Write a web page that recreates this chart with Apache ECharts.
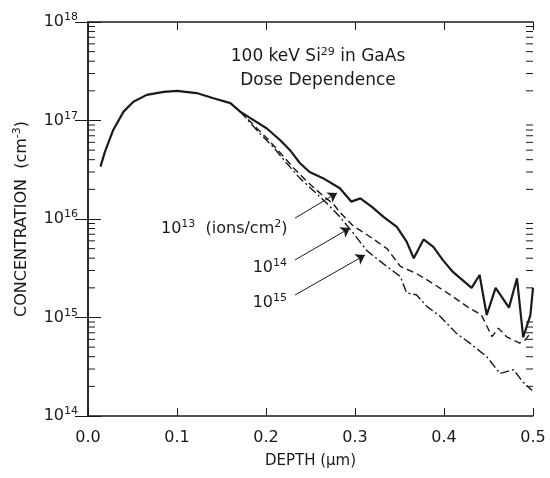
<!DOCTYPE html>
<html>
<head>
<meta charset="utf-8">
<script src="https://cdn.jsdelivr.net/npm/echarts@6/dist/echarts.min.js"></script>
<style>
html,body{margin:0;padding:0;background:#fff;}
#chart{width:550px;height:478px;}
</style>
</head>
<body>
<div id="chart"></div>
<script>
// ---- data (depth in µm, concentration in cm^-3) ----
const depth13 = [0.014,0.019,0.028,0.040,0.051,0.066,0.085,0.100,0.122,0.141,0.160,0.171,0.186,0.201,0.216,0.227,0.238,0.249,0.264,0.283,0.296,0.306,0.319,0.332,0.347,0.358,0.366,0.377,0.388,0.399,0.410,0.431,0.440,0.448,0.458,0.473,0.482,0.489,0.497,0.500];
const conc13  = [3.4e16,4.8e16,7.9e16,1.23e17,1.55e17,1.82e17,1.95e17,2.0e17,1.9e17,1.68e17,1.5e17,1.23e17,1.01e17,8.3e16,6.3e16,5.0e16,3.7e16,3.0e16,2.6e16,2.05e16,1.5e16,1.62e16,1.33e16,1.05e16,8.3e15,5.9e15,4.0e15,6.2e15,5.2e15,3.8e15,2.9e15,2.0e15,2.7e15,1.06e15,2.0e15,1.26e15,2.5e15,6.3e14,1.05e15,2.0e15];

const depth14 = [0.171,0.182,0.201,0.216,0.231,0.246,0.261,0.276,0.283,0.298,0.317,0.336,0.351,0.369,0.388,0.407,0.426,0.442,0.454,0.461,0.470,0.485,0.491,0.497];
const conc14  = [1.23e17,9.8e16,6.6e16,4.7e16,3.3e16,2.4e16,1.82e16,1.41e16,1.17e16,8.5e15,6.6e15,5.0e15,3.3e15,2.8e15,2.2e15,1.7e15,1.29e15,1.06e15,6.4e14,7.8e14,6.4e14,5.5e14,5.9e14,6.9e14];

const depth15 = [0.171,0.193,0.208,0.223,0.238,0.253,0.268,0.283,0.298,0.313,0.332,0.351,0.358,0.369,0.381,0.396,0.414,0.429,0.448,0.463,0.478,0.489,0.499];
const conc15  = [1.23e17,7.4e16,5.4e16,3.7e16,2.6e16,1.95e16,1.45e16,1.05e16,7.2e15,4.8e15,3.5e15,2.6e15,1.78e15,1.7e15,1.29e15,1.02e15,6.9e14,5.5e14,4.0e14,2.7e14,2.95e14,2.2e14,1.82e14];

const xTicks = [0.0,0.1,0.2,0.3,0.4,0.5];
const decades = [1e14,1e15,1e16,1e17];
const minorMult = [2,3,4,5,6,7,8,9];

// annotation anchors in data units [depth, conc]
const doseLabels = ['13','14','15'];
const labelPos = [[0.082,7.9e15],[0.185,3.2e15],[0.185,1.4e15]];
const arrowFrom = [[0.2326,1.02e16],[0.2326,3.84e15],[0.2326,1.69e15]];
const arrowTo   = [[0.2798,1.84e16],[0.2944,8.1e15],[0.3112,4.3e15]];

// ---- chart ----
const FONT = 'DejaVu Sans';
const INK = '#1a1a1a';
const zip = (a,b) => a.map((v,i)=>[v,b[i]]);
const minorVals = [];
decades.forEach(d => minorMult.forEach(m => minorVals.push([0, d*m])));

const chart = echarts.init(document.getElementById('chart'), null, {renderer:'canvas'});
const supRich = {
  b:{fontSize:16,fontFamily:FONT,color:INK,fontWeight:'normal'},
  s:{fontSize:11,fontFamily:FONT,color:INK,fontWeight:'normal',padding:[0,0,9,0]}
};

const option = {
  animation:false,
  backgroundColor:'#fff',
  title:{
    text:'{t|100 keV Si}{s|29}{t| in GaAs}\n{t|Dose Dependence}',
    left:313, top:40, textAlign:'center',
    textStyle:{
      fontWeight:'normal',
      lineHeight:24,
      rich:{
        t:{fontSize:17,fontFamily:FONT,color:INK,fontWeight:'normal',lineHeight:24},
        s:{fontSize:11,fontFamily:FONT,color:INK,fontWeight:'normal',padding:[0,0,9,0]}
      }
    }
  },
  grid:{left:88,right:17,top:22,bottom:62},
  xAxis:[{
    type:'value', min:0, max:0.5, interval:0.1, position:'bottom',
    name:'DEPTH (µm)', nameLocation:'middle', nameGap:38,
    nameTextStyle:{fontSize:15,fontFamily:FONT,color:INK},
    axisLine:{show:true,lineStyle:{color:INK,width:1.5}},
    axisTick:{show:true,inside:true,length:8,lineStyle:{color:INK,width:1}},
    axisLabel:{fontSize:16,fontFamily:FONT,color:INK,margin:14,formatter:v=>v.toFixed(1)},
    splitLine:{show:false}
  },{
    type:'value', min:0, max:0.5, interval:0.1, position:'top',
    axisLine:{show:true,lineStyle:{color:INK,width:1.5}},
    axisTick:{show:true,inside:true,length:8,lineStyle:{color:INK,width:1}},
    axisLabel:{show:false}, splitLine:{show:false}
  }],
  yAxis:[{
    type:'log', logBase:10, min:1e14, max:1e18, position:'left',
    name:'{n|CONCENTRATION  (cm}{s|-3}{n|)}', nameLocation:'middle', nameGap:56,
    nameTextStyle:{rich:{
      n:{fontSize:16,fontFamily:FONT,color:INK},
      s:{fontSize:11,fontFamily:FONT,color:INK,padding:[0,0,9,0]}
    }},
    axisLine:{show:true,lineStyle:{color:INK,width:1.5}},
    axisTick:{show:true,inside:true,length:13,lineStyle:{color:INK,width:1}},
    axisLabel:{margin:10,formatter:v=>'{b|10}{s|'+Math.round(Math.log10(v))+'}',rich:supRich},
    splitLine:{show:false}
  },{
    type:'log', logBase:10, min:1e14, max:1e18, position:'right',
    axisLine:{show:true,lineStyle:{color:INK,width:1.5}},
    axisTick:{show:true,inside:true,length:13,lineStyle:{color:INK,width:1}},
    axisLabel:{show:false}, splitLine:{show:false}
  }],
  series:[
    {
      type:'custom', name:'minorTicks', xAxisIndex:0, yAxisIndex:0, silent:true,
      data:minorVals, clip:false,
      renderItem:(params,api)=>{
        const v = api.value(1);
        const pl = api.coord([0, v]);
        const pr = api.coord([0.5, v]);
        const st = {stroke:INK,lineWidth:1};
        return {type:'group',children:[
          {type:'line',shape:{x1:pl[0],y1:pl[1],x2:pl[0]+7,y2:pl[1]},style:st},
          {type:'line',shape:{x1:pr[0]-7,y1:pr[1],x2:pr[0],y2:pr[1]},style:st}
        ]};
      }
    },
    {
      type:'line', name:'1e15', data:zip(depth15,conc15), showSymbol:false, symbol:'none',
      lineStyle:{color:INK,width:1.4,type:[9,3,2,3]}, z:3
    },
    {
      type:'line', name:'1e14', data:zip(depth14,conc14), showSymbol:false, symbol:'none',
      lineStyle:{color:INK,width:1.4,type:[7,4]}, z:3
    },
    {
      type:'line', name:'1e13', data:zip(depth13,conc13), showSymbol:false, symbol:'none',
      lineStyle:{color:INK,width:2.2}, z:4,
      markLine:{
        silent:true, symbol:['none','arrow'], symbolSize:9, animation:false,
        label:{show:false},
        itemStyle:{color:INK},
        lineStyle:{color:INK,width:1,type:'solid'},
        data: arrowFrom.map((f,i)=>[{coord:f},{coord:arrowTo[i]}])
      },
      markPoint:{
        silent:true, symbol:'circle', symbolSize:0, animation:false,
        data: labelPos.map((p,i)=>({
          coord:p,
          label:{
            show:true, position:'right', distance:0,
            formatter: i===0 ? '{b|10}{s|'+doseLabels[i]+'}{b|  (ions/cm}{s|2}{b|)}' : '{b|10}{s|'+doseLabels[i]+'}',
            rich:supRich
          }
        }))
      }
    }
  ]
};
chart.setOption(option);
</script>
</body>
</html>
